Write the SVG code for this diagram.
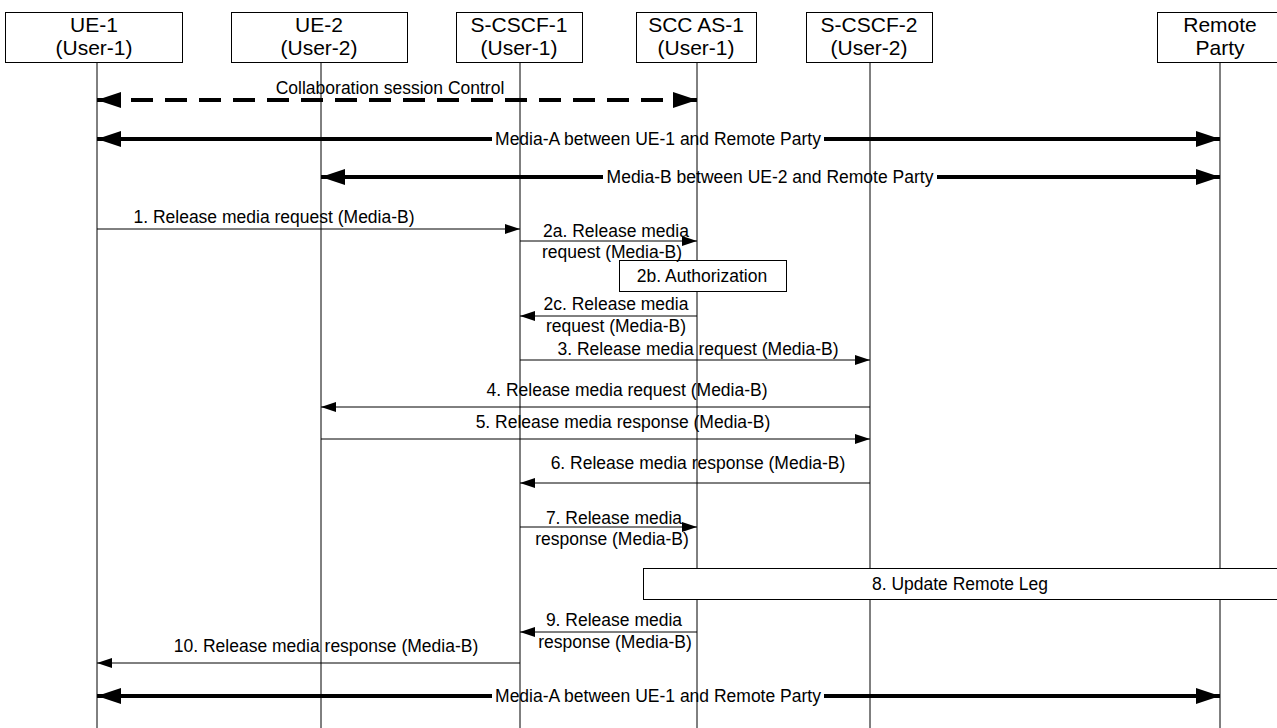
<svg xmlns="http://www.w3.org/2000/svg" width="1277" height="728" viewBox="0 0 1277 728">
<style>
  text { font-family: "Liberation Sans", Arial, sans-serif; fill: #000; }
  .hdr { font-size: 21px; text-anchor: middle; }
  .msg { font-size: 17.5px; text-anchor: middle; }
  .box { fill: #fff; stroke: #000; stroke-width: 1; }
  .life { stroke: #000; stroke-width: 1; }
  .thin { stroke: #000; stroke-width: 1; fill: none; }
  .thick { stroke: #000; stroke-width: 4; fill: none; }
  .dash { stroke: #000; stroke-width: 4; fill: none; stroke-dasharray: 22 12; }
</style>
<defs>
  <marker id="ah" viewBox="0 0 15 10" refX="15" refY="5" markerWidth="15" markerHeight="10" markerUnits="userSpaceOnUse" orient="auto-start-reverse">
    <path d="M0,0 L15,5 L0,10 z" fill="#000"/>
  </marker>
  <marker id="ahT" viewBox="0 0 24 16" refX="24" refY="8" markerWidth="24" markerHeight="16" markerUnits="userSpaceOnUse" orient="auto-start-reverse">
    <path d="M0,0 L24,8 L0,16 z" fill="#000"/>
  </marker>
</defs>
<rect width="1277" height="728" fill="#fff"/>

<g id="lifelines">
  <line class="life" x1="97" y1="62" x2="97" y2="728"/>
  <line class="life" x1="321" y1="62" x2="321" y2="728"/>
  <line class="life" x1="520" y1="62" x2="520" y2="728"/>
  <line class="life" x1="697" y1="62" x2="697" y2="728"/>
  <line class="life" x1="870" y1="62" x2="870" y2="728"/>
  <line class="life" x1="1220" y1="62" x2="1220" y2="728"/>
</g>

<g id="node-ue1">
  <rect class="box" x="5.5" y="12.5" width="177" height="50"/>
  <text class="hdr" x="94" y="32">UE-1</text>
  <text class="hdr" x="94" y="55">(User-1)</text>
</g>
<g id="node-ue2">
  <rect class="box" x="231.5" y="12.5" width="176" height="50"/>
  <text class="hdr" x="319" y="32">UE-2</text>
  <text class="hdr" x="319" y="55">(User-2)</text>
</g>
<g id="node-scscf1">
  <rect class="box" x="456.5" y="12.5" width="126" height="50"/>
  <text class="hdr" x="519" y="32">S-CSCF-1</text>
  <text class="hdr" x="519" y="55">(User-1)</text>
</g>
<g id="node-sccas1">
  <rect class="box" x="636.5" y="12.5" width="120" height="50"/>
  <text class="hdr" x="696" y="32">SCC AS-1</text>
  <text class="hdr" x="696" y="55">(User-1)</text>
</g>
<g id="node-scscf2">
  <rect class="box" x="806.5" y="12.5" width="126" height="50"/>
  <text class="hdr" x="869" y="32">S-CSCF-2</text>
  <text class="hdr" x="869" y="55">(User-2)</text>
</g>
<g id="node-remote">
  <rect class="box" x="1157.5" y="12.5" width="126" height="50"/>
  <text class="hdr" x="1220" y="32">Remote</text>
  <text class="hdr" x="1220" y="55">Party</text>
</g>

<g id="node-2b">
  <rect class="box" x="619.5" y="260.5" width="167" height="31"/>
  <text class="msg" x="702" y="282">2b. Authorization</text>
</g>
<g id="node-8">
  <rect class="box" x="643.5" y="568.5" width="640" height="31"/>
  <text class="msg" x="960" y="590">8. Update Remote Leg</text>
</g>

<g id="connectors">
  <line class="dash" x1="97" y1="100" x2="697" y2="100" marker-start="url(#ahT)" marker-end="url(#ahT)"/>
  <line class="thick" x1="97" y1="139" x2="492" y2="139" marker-start="url(#ahT)"/>
  <line class="thick" x1="824" y1="139" x2="1220" y2="139" marker-end="url(#ahT)"/>
  <line class="thick" x1="321" y1="177" x2="603" y2="177" marker-start="url(#ahT)"/>
  <line class="thick" x1="937" y1="177" x2="1220" y2="177" marker-end="url(#ahT)"/>
  <line class="thin" x1="97" y1="229" x2="520" y2="229" marker-end="url(#ah)"/>
  <line class="thin" x1="520" y1="241" x2="697" y2="241" marker-end="url(#ah)"/>
  <line class="thin" x1="697" y1="316" x2="520" y2="316" marker-end="url(#ah)"/>
  <line class="thin" x1="520" y1="360" x2="870" y2="360" marker-end="url(#ah)"/>
  <line class="thin" x1="870" y1="407" x2="321" y2="407" marker-end="url(#ah)"/>
  <line class="thin" x1="321" y1="439" x2="870" y2="439" marker-end="url(#ah)"/>
  <line class="thin" x1="870" y1="483" x2="520" y2="483" marker-end="url(#ah)"/>
  <line class="thin" x1="520" y1="527" x2="697" y2="527" marker-end="url(#ah)"/>
  <line class="thin" x1="697" y1="632" x2="520" y2="632" marker-end="url(#ah)"/>
  <line class="thin" x1="520" y1="663" x2="97" y2="663" marker-end="url(#ah)"/>
  <line class="thick" x1="97" y1="696" x2="492" y2="696" marker-start="url(#ahT)"/>
  <line class="thick" x1="824" y1="696" x2="1220" y2="696" marker-end="url(#ahT)"/>
</g>

<g id="labels">
  <text class="msg" x="390" y="94">Collaboration session Control</text>
  <text class="msg" x="658" y="145">Media-A between UE-1 and Remote Party</text>
  <text class="msg" x="770" y="183">Media-B between UE-2 and Remote Party</text>
  <text class="msg" x="274" y="223">1. Release media request (Media-B)</text>
  <text class="msg" x="616" y="237">2a. Release media</text>
  <text class="msg" x="612" y="258">request (Media-B)</text>
  <text class="msg" x="616" y="310">2c. Release media</text>
  <text class="msg" x="616" y="332">request (Media-B)</text>
  <text class="msg" x="698" y="355">3. Release media request (Media-B)</text>
  <text class="msg" x="627" y="396">4. Release media request (Media-B)</text>
  <text class="msg" x="623" y="428">5. Release media response (Media-B)</text>
  <text class="msg" x="698" y="469">6. Release media response (Media-B)</text>
  <text class="msg" x="614" y="524">7. Release media</text>
  <text class="msg" x="612" y="545">response (Media-B)</text>
  <text class="msg" x="614" y="626">9. Release media</text>
  <text class="msg" x="615" y="648">response (Media-B)</text>
  <text class="msg" x="326" y="652">10. Release media response (Media-B)</text>
  <text class="msg" x="658" y="702">Media-A between UE-1 and Remote Party</text>
</g>
</svg>
